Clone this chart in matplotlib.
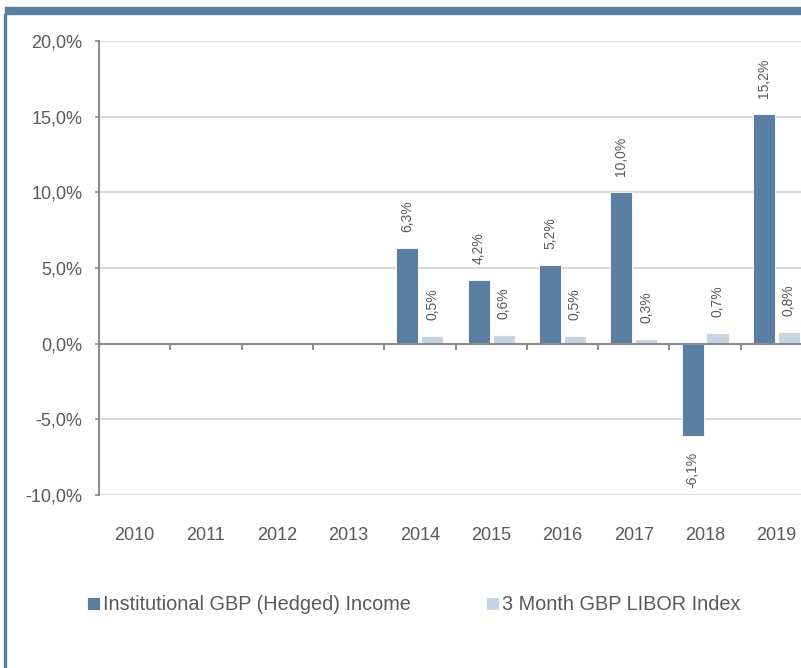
import numpy as np
import matplotlib.pyplot as plt
from matplotlib.ticker import FuncFormatter
from matplotlib.patches import Rectangle

plt.rcParams['font.family'] = ['Liberation Sans', 'DejaVu Sans']

# data (annual returns, %) - no data before 2014
years = ["2010", "2011", "2012", "2013", "2014", "2015", "2016", "2017", "2018", "2019"]
fund = [None, None, None, None, 6.3, 4.2, 5.2, 10.0, -6.1, 15.2]
libor = [None, None, None, None, 0.5, 0.6, 0.5, 0.3, 0.7, 0.8]
fund_name = "Institutional GBP (Hedged) Income"
libor_name = "3 Month GBP LIBOR Index"

dark = "#5b7fa3"
light = "#c5d3e4"
txt = "#595959"
axis_grey = "#8c8c8c"
grid_grey = "#d9d9d9"

fig = plt.figure(figsize=(8.01, 6.68), dpi=100)
ax = fig.add_axes([99/801, 1-495/668, 713/801, 454/668])

x = np.arange(len(years))
idx = [i for i in range(len(years)) if fund[i] is not None]
w = 0.31
off = 0.175

def fmt(v):
    return f"{v:.1f}".replace(".", ",") + "%"

b1 = ax.bar(x[idx] - off, [fund[i] for i in idx], w, color=dark,
            edgecolor="white", linewidth=0.6, label=fund_name, zorder=3)
b2 = ax.bar(x[idx] + off, [libor[i] for i in idx], w, color=light,
            edgecolor="white", linewidth=0.6, label=libor_name, zorder=3)

ax.bar_label(b1, labels=[fmt(fund[i]) for i in idx], padding=11.5,
             rotation=90, fontsize=10, color=txt)
ax.bar_label(b2, labels=[fmt(libor[i]) for i in idx], padding=11.5,
             rotation=90, fontsize=10, color=txt)

ax.set_xlim(-0.5, len(years) - 0.5)
ax.set_ylim(-10, 20)
ax.set_yticks(np.arange(-10, 21, 5))
ax.yaxis.set_major_formatter(FuncFormatter(lambda v, p: fmt(v)))
ax.set_xticks(x)
ax.set_xticklabels(years)

ax.grid(axis="y", color=grid_grey, linewidth=1.5, zorder=0)
ax.set_axisbelow(True)
for s in ["top", "right", "bottom"]:
    ax.spines[s].set_visible(False)
ax.spines["left"].set_color(axis_grey)
ax.spines["left"].set_linewidth(1.5)
ax.tick_params(axis="y", length=3, width=1.2, color=axis_grey,
               labelsize=13, labelcolor=txt, pad=9)
ax.tick_params(axis="x", length=0, labelsize=13, labelcolor=txt, pad=23)

# zero line with category tick marks
ax.axhline(0, color=axis_grey, linewidth=1.5, zorder=4)
y0 = (0 - ax.get_ylim()[0]) / (ax.get_ylim()[1] - ax.get_ylim()[0])
ax.vlines(x[:-1] + 0.5, y0 - 0.013, y0, transform=ax.get_xaxis_transform(),
          color=axis_grey, linewidth=1.5, zorder=4)

fig.legend(handles=[b1, b2], loc="center", bbox_to_anchor=(414/801, 1-605/668),
           ncol=2, frameon=False, fontsize=14.3, labelcolor=txt,
           handlelength=0.65, handleheight=0.65, handletextpad=0.15,
           columnspacing=3.8, borderpad=0)

# frame decoration: top band and left border
fig.patches.append(Rectangle((5/801, 1-14/668), 1, 7/668, transform=fig.transFigure,
                             color=dark, zorder=5))
fig.patches.append(Rectangle((4/801, 0), 2/801, 1-14/668, transform=fig.transFigure,
                             color=dark, zorder=5))

fig.savefig("out.png", dpi=100)
